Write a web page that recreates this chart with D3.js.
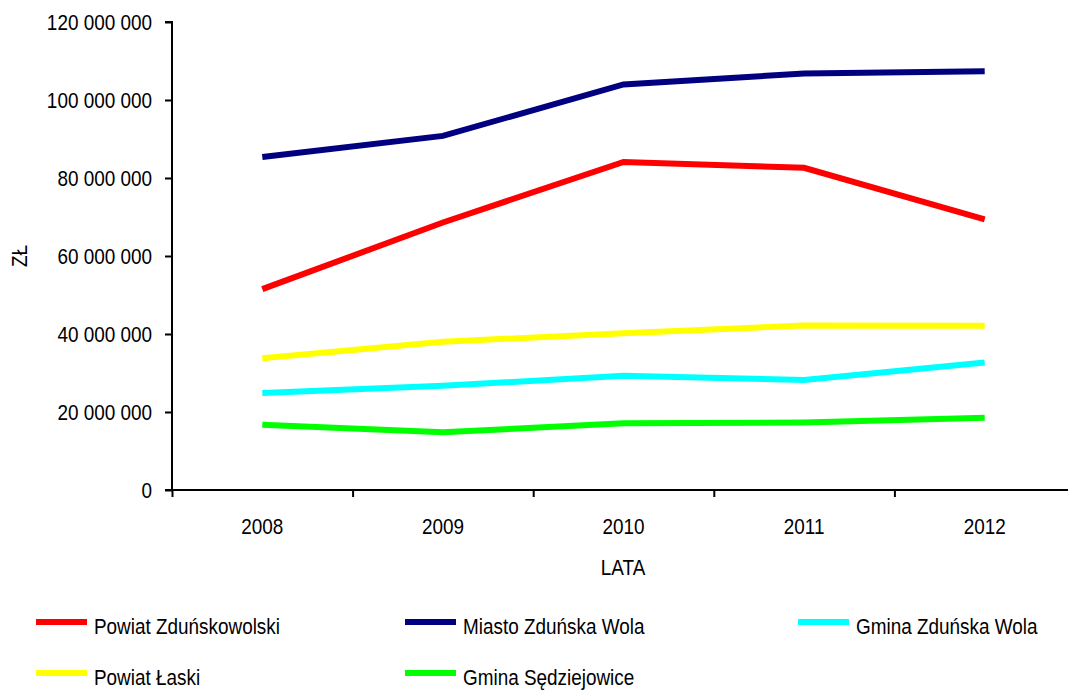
<!DOCTYPE html>
<html>
<head>
<meta charset="utf-8">
<script src="https://cdn.jsdelivr.net/npm/d3@7"></script>
<style>
  html, body { margin: 0; padding: 0; background: #fff; }
  svg { display: block; }
  text { font-family: "Liberation Sans", Arial, sans-serif; fill: #000; }
</style>
</head>
<body>
<svg id="chart" width="1068" height="691"></svg>
<script>
const years = ["2008", "2009", "2010", "2011", "2012"];
const seriesNames = ["Powiat Zduńskowolski", "Miasto Zduńska Wola", "Gmina Zduńska Wola", "Powiat Łaski", "Gmina Sędziejowice"];
const seriesColors = ["#FF0000", "#000080", "#00FFFF", "#FFFF00", "#00FF00"];
const powiatZdunskowolski = [51500000, 68600000, 84100000, 82600000, 69400000];
const miastoZdunskaWola   = [85400000, 90800000, 104000000, 106800000, 107400000];
const gminaZdunskaWola    = [24900000, 26700000, 29300000, 28200000, 32700000];
const powiatLaski         = [33800000, 38000000, 40200000, 42200000, 42100000];
const gminaSedziejowice   = [16700000, 14800000, 17100000, 17300000, 18500000];
const yTickValues = [0, 20000000, 40000000, 60000000, 80000000, 100000000, 120000000];
const xAxisTitle = "LATA";
const yAxisTitle = "ZŁ";

const seriesValues = [powiatZdunskowolski, miastoZdunskaWola, gminaZdunskaWola, powiatLaski, gminaSedziejowice];

const FS = 22, SX = 0.86;
const svg = d3.select("#chart");
const plotL = 172, plotR = 1075, plotT = 22, plotB = 490;

const x = d3.scaleBand().domain(years).range([plotL, plotR]).paddingInner(0).paddingOuter(0);
const xEdges = d3.scaleLinear().domain([0, years.length]).range([plotL, plotR]);
const y = d3.scaleLinear().domain([0, 120000000]).range([plotB, plotT]);

const loc = d3.formatLocale({decimal: ",", thousands: " ", grouping: [3], currency: ["", ""]});
const fmt = loc.format(",d");

function squish(sel) {
  sel.each(function() {
    const t = d3.select(this);
    const xv = +(t.attr("x") || 0);
    t.attr("x", xv / SX).attr("transform", `scale(${SX},1)`);
  });
}

// Y axis
const gy = svg.append("g").attr("transform", `translate(${plotL},0)`)
  .call(d3.axisLeft(y).tickValues(yTickValues).tickSize(7).tickPadding(13).tickFormat(fmt));
gy.selectAll("path, line").attr("stroke", "#000").attr("stroke-width", 2);
gy.select(".domain").attr("d", `M-7,${plotT}H0V${plotB}H-7`);
gy.selectAll("text").attr("font-size", FS).attr("font-family", '"Liberation Sans", Arial, sans-serif').attr("fill", "#000");
squish(gy.selectAll("text"));

// X axis (edge ticks)
const gxe = svg.append("g").attr("transform", `translate(0,${plotB})`)
  .call(d3.axisBottom(xEdges).tickValues(d3.range(0, years.length + 1)).tickSize(7).tickFormat(""));
gxe.selectAll("path, line").attr("stroke", "#000").attr("stroke-width", 2);
gxe.select(".domain").attr("d", `M${plotL},0H${plotR}`);

// X axis labels
const gx = svg.append("g").attr("transform", `translate(0,${plotB})`)
  .call(d3.axisBottom(x).tickSize(0).tickPadding(0));
gx.select(".domain").remove();
gx.selectAll("text").attr("y", 44).attr("dy", 0).attr("font-size", FS)
  .attr("font-family", '"Liberation Sans", Arial, sans-serif').attr("fill", "#000");
squish(gx.selectAll("text"));

function addText(g, txt, px, py, anchor, rot) {
  return g.append("text")
    .attr("transform", `translate(${px},${py}) rotate(${rot || 0}) scale(${SX},1)`)
    .attr("text-anchor", anchor || "start")
    .attr("font-size", FS)
    .text(txt);
}

// Axis titles
addText(svg, xAxisTitle, 623, 575, "middle");
addText(svg, yAxisTitle, 27, 256, "middle", -90);

// Lines
const line = d3.line()
  .x((d, i) => x(years[i]) + x.bandwidth() / 2)
  .y(d => y(d));

svg.append("g").selectAll("path.series")
  .data(seriesValues)
  .join("path")
  .attr("class", "series")
  .attr("d", d => line(d))
  .attr("fill", "none")
  .attr("stroke", (d, i) => seriesColors[i])
  .attr("stroke-width", 6)
  .attr("stroke-linejoin", "miter")
  .attr("stroke-linecap", "butt");

// Legend
const legendPos = [
  {lx: 36, ty: 634, ly: 622},
  {lx: 405, ty: 634, ly: 622},
  {lx: 798, ty: 634, ly: 622},
  {lx: 36, ty: 685, ly: 673},
  {lx: 405, ty: 685, ly: 673}
];
const lg = svg.append("g");
seriesNames.forEach((name, i) => {
  const p = legendPos[i];
  lg.append("line")
    .attr("x1", p.lx).attr("x2", p.lx + 51)
    .attr("y1", p.ly).attr("y2", p.ly)
    .attr("stroke", seriesColors[i]).attr("stroke-width", 6);
  addText(lg, name, p.lx + 58, p.ty, "start");
});
</script>
</body>
</html>
